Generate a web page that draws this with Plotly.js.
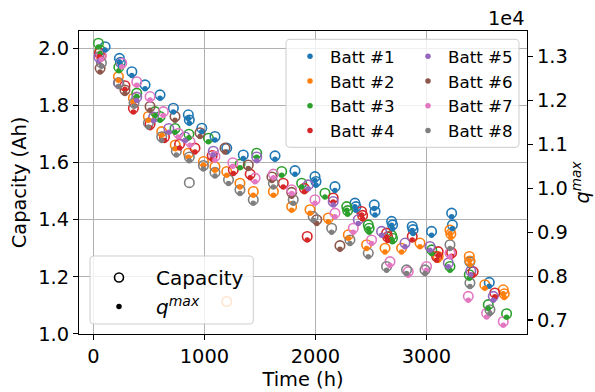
<!DOCTYPE html>
<html><head><meta charset="utf-8">
<script src="https://cdn.plot.ly/plotly-3.0.1.min.js"></script>
<style>html,body{margin:0;padding:0;background:#fff}#chart{width:595px;height:392px}</style>
</head><body><div id="chart"></div>
<script>
const batteryNames = ['Batt #1','Batt #2','Batt #3','Batt #4','Batt #5','Batt #6','Batt #7','Batt #8'];
const colors = ['#1f77b4','#ff7f0e','#2ca02c','#d62728','#9467bd','#8c564b','#e377c2','#7f7f7f'];
const xTicks = [0, 1000, 2000, 3000];
const yTicks = [1.0, 1.2, 1.4, 1.6, 1.8, 2.0];
const y2Ticks = [7000, 8000, 9000, 10000, 11000, 12000, 13000];
const y2TickText = ['0.7','0.8','0.9','1.0','1.1','1.2','1.3'];

// Batt #1
const t1 = [105,234,243,346,465,600,720,855,864,976,1095,1201,1350,1636,1816,1996,2005,2176,2356,2365,2530,2537,2686,2695,2872,2880,3046,3227,3234,3391,3566];
const cap1 = [2.007,1.966,1.952,1.919,1.873,1.838,1.791,1.768,1.750,1.721,1.692,1.651,1.627,1.624,1.572,1.551,1.534,1.516,1.458,1.446,1.452,1.429,1.394,1.382,1.376,1.365,1.359,1.423,1.382,1.253,1.180];
const qmax1 = [13150,12880,12790,12570,12270,12050,11740,11590,11480,11290,11100,10830,10680,10660,10320,10180,10070,9950,9580,9500,9540,9390,9160,9080,9040,8970,8930,9350,9080,8240,7770];
// Batt #2
const t2 = [67,225,360,495,615,737,855,991,1095,1201,1201,1320,1440,1621,1786,1951,2116,2296,2461,2627,2776,2942,3106,3212,3220,3386,3392,3526,3692,3701];
const cap2 = [1.975,1.902,1.826,1.762,1.709,1.662,1.633,1.604,1.586,1.569,1.113,1.528,1.499,1.499,1.446,1.435,1.406,1.347,1.312,1.300,1.300,1.318,1.271,1.364,1.350,1.271,1.255,1.172,1.154,1.140];
const qmax2 = [12940,12460,11970,11550,11210,10900,10710,10530,10410,10300,null,10030,9840,9840,9500,9430,9240,8860,8630,8550,8550,8670,8360,8970,8880,8360,8260,7720,7600,7510];
// Batt #3
const t3 = [45,60,229,390,555,600,735,860,1036,1321,1471,1696,1876,2086,2282,2290,2476,2484,2686,2694,3048,3212,3386,3557,3722];
const cap3 = [2.019,1.995,1.935,1.844,1.779,1.762,1.720,1.700,1.686,1.595,1.633,1.569,1.528,1.493,1.446,1.432,1.382,1.370,1.345,1.335,1.294,1.236,1.207,1.102,1.070];
const qmax3 = [13220,13070,12680,12090,11660,11550,11280,11150,11060,10470,10710,10300,10030,9800,9500,9410,9080,9000,8840,8780,8510,8130,7950,7260,7060];
// Batt #4
const t4 = [54,284,360,510,640,776,915,1070,1260,1412,1710,1900,1926,2160,2416,2425,2641,2650,2872,3092,3106,3227,3421,3616];
const cap4 = [1.985,1.870,1.791,1.735,1.690,1.665,1.651,1.625,1.575,1.560,1.528,1.510,1.341,1.476,1.429,1.415,1.353,1.340,1.341,1.271,1.288,1.284,1.218,1.143];
const qmax4 = [13000,12260,11740,11380,11090,10920,10830,10660,10340,10240,10030,9920,8820,9690,9390,9300,8890,8810,8820,8360,8470,8450,8020,7530];
// Batt #5
const t5 = [50,225,390,542,679,825,1080,1471,1935,2160,2386,2596,2807,3032,3197,3400,3602];
const cap5 = [1.970,1.880,1.830,1.760,1.720,1.690,1.640,1.620,1.522,1.464,1.400,1.359,1.318,1.306,1.248,1.220,1.131];
const qmax5 = [12900,12320,12000,11540,11280,11090,10760,10630,9990,9620,9200,8930,8670,8590,8210,8030,7450];
// Batt #6
const t6 = [60,284,510,735,960,1185,1395,1608,1786,2012,2221];
const cap6 = [1.931,1.855,1.797,1.762,1.705,1.651,1.592,1.550,1.496,1.400,1.309];
const qmax6 = [12650,12160,11780,11550,11180,10830,10450,10180,9820,9200,8610];
// Batt #7
const t7 = [72,255,390,510,630,765,870,1095,1256,1456,1621,1786,1996,2176,2341,2506,2672,2836,3001,3212,3377,3542,3692];
const cap7 = [1.975,1.949,1.884,1.832,1.779,1.703,1.674,1.622,1.600,1.546,1.560,1.505,1.470,1.423,1.370,1.329,1.253,1.218,1.236,1.283,1.131,1.072,1.043];
const qmax7 = [12940,12770,12350,12010,11660,11170,10980,10640,10500,10150,10240,9880,9660,9350,9000,8740,8240,8020,8130,8440,7450,7070,6880];
// Batt #8
const t8 = [72,229,366,495,615,747,864,864,991,1095,1217,1320,1440,1621,1800,1980,2146,2311,2476,2641,2821,2987,3212,3392,3572];
const cap8 = [1.950,1.880,1.810,1.739,1.691,1.640,1.620,1.530,1.590,1.566,1.540,1.505,1.470,1.528,1.470,1.411,1.370,1.329,1.283,1.236,1.224,1.224,1.312,1.178,1.084];
const qmax8 = [12780,12320,11870,11400,11090,10760,10630,null,10440,10280,10110,9880,9660,10030,9660,9270,9000,8740,8440,8130,8060,8060,8630,7760,7150];

const times = [t1,t2,t3,t4,t5,t6,t7,t8];
const caps = [cap1,cap2,cap3,cap4,cap5,cap6,cap7,cap8];
const qmaxs = [qmax1,qmax2,qmax3,qmax4,qmax5,qmax6,qmax7,qmax8];

const FONT = 'DejaVu Sans';
const traces = [];
for (let i = 0; i < 8; i++) {
  traces.push({x: times[i], y: caps[i], type: 'scatter', mode: 'markers', yaxis: 'y',
    showlegend: false, hoverinfo: 'skip',
    marker: {symbol: 'circle-open', size: 9.5, color: colors[i], line: {width: 1.6, color: colors[i]}}});
}
for (let i = 0; i < 8; i++) {
  traces.push({x: times[i], y: qmaxs[i], type: 'scatter', mode: 'markers', yaxis: 'y2',
    name: batteryNames[i], legend: i < 4 ? 'legend' : 'legend2',
    marker: {symbol: 'circle', size: 5.5, color: colors[i]}});
}
traces.push({x: [null], y: [null], type: 'scatter', mode: 'markers', name: 'Capacity', legend: 'legend3',
  marker: {symbol: 'circle-open', size: 9, color: 'black', line: {width: 1.6, color: 'black'}}});
traces.push({x: [null], y: [null], type: 'scatter', mode: 'markers', name: '<i>q</i><sup><i>max</i></sup>', legend: 'legend3',
  marker: {symbol: 'circle', size: 5.5, color: 'black'}});

// plot area in pixels
const L = 79, R = 527, T = 31, B = 334;
function px2paper(x, y) { return [(x - L) / (R - L), (B - y) / (B - T)]; }
function roundRect(x0, y0, x1, y1, r) {
  const p = (x, y) => { const q = px2paper(x, y); return q[0].toFixed(5) + ',' + q[1].toFixed(5); };
  return 'M' + p(x0 + r, y0) + ' L' + p(x1 - r, y0) + ' Q' + p(x1, y0) + ' ' + p(x1, y0 + r) +
    ' L' + p(x1, y1 - r) + ' Q' + p(x1, y1) + ' ' + p(x1 - r, y1) +
    ' L' + p(x0 + r, y1) + ' Q' + p(x0, y1) + ' ' + p(x0, y1 - r) +
    ' L' + p(x0, y0 + r) + ' Q' + p(x0, y0) + ' ' + p(x0 + r, y0) + ' Z';
}
const boxStyle = {type: 'path', xref: 'paper', yref: 'paper', fillcolor: 'rgba(255,255,255,0.8)',
  line: {color: '#cccccc', width: 1}, layer: 'above'};

const axisCommon = {ticks: 'outside', ticklen: 5, tickwidth: 1.1, tickcolor: 'black',
  showline: true, linecolor: 'black', linewidth: 1.1, zeroline: false,
  tickfont: {family: FONT, size: 19.4, color: 'black'}};

const layout = {
  width: 595, height: 392,
  margin: {l: L, r: 595 - R, t: T, b: 392 - B, pad: 0},
  paper_bgcolor: 'white', plot_bgcolor: 'white',
  font: {family: FONT, color: 'black'},
  xaxis: Object.assign({}, axisCommon, {range: [-130, 3906], tickvals: xTicks, mirror: true,
    showgrid: true, gridcolor: '#b0b0b0', gridwidth: 1.1,
    title: {text: 'Time (h)', font: {family: FONT, size: 19.4, color: 'black'}, standoff: 4}}),
  yaxis: Object.assign({}, axisCommon, {range: [0.999, 2.062], tickvals: yTicks, tickformat: '.1f', mirror: true,
    showgrid: true, gridcolor: '#b0b0b0', gridwidth: 1.1,
    title: {text: 'Capacity (Ah)', font: {family: FONT, size: 19.4, color: 'black'}, standoff: 6}}),
  yaxis2: Object.assign({}, axisCommon, {overlaying: 'y', side: 'right', range: [6680, 13585],
    tickvals: y2Ticks, ticktext: y2TickText, showgrid: false,
    title: {text: '<i>q</i><sup><i>max</i></sup>', font: {family: FONT, size: 19.4, color: 'black'}, standoff: 4}}),
  legend: {x: px2paper(290, 0)[0], y: px2paper(0, 39)[1], xanchor: 'left', yanchor: 'top',
    bgcolor: 'rgba(0,0,0,0)', borderwidth: 0, font: {family: FONT, size: 16.7, color: 'black'}},
  legend2: {x: px2paper(408, 0)[0], y: px2paper(0, 39)[1], xanchor: 'left', yanchor: 'top',
    bgcolor: 'rgba(0,0,0,0)', borderwidth: 0, font: {family: FONT, size: 16.7, color: 'black'}},
  legend3: {x: px2paper(82, 0)[0], y: px2paper(0, 258)[1], xanchor: 'left', yanchor: 'top', itemwidth: 64,
    bgcolor: 'rgba(0,0,0,0)', borderwidth: 0, font: {family: FONT, size: 20, color: 'black'}},
  shapes: [
    Object.assign({}, boxStyle, {path: roundRect(286, 39.3, 519, 147.3, 4)}),
    Object.assign({}, boxStyle, {path: roundRect(90, 256, 253.3, 324, 4)})
  ],
  annotations: [{text: '1e4', xref: 'paper', yref: 'paper', x: 1, y: px2paper(0, 18)[1],
    xanchor: 'right', yanchor: 'middle', showarrow: false, font: {family: FONT, size: 19.4, color: 'black'}}],
  showlegend: true
};
Plotly.newPlot('chart', traces, layout, {displayModeBar: false, staticPlot: true});
</script></body></html>
